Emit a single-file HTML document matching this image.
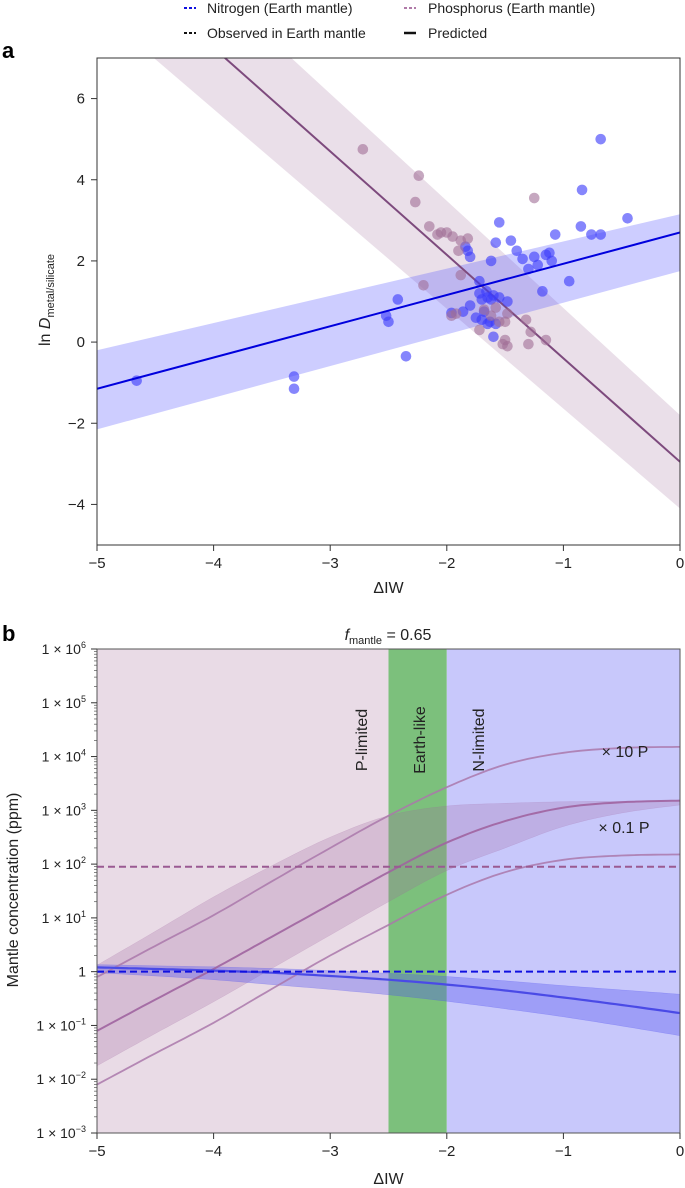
<!DOCTYPE html>
<html><head><meta charset="utf-8">
<style>
body{margin:0;background:#fff;}
svg{display:block;font-family:"Liberation Sans",sans-serif;}
</style></head>
<body>
<svg id="chart" width="685" height="1188" viewBox="0 0 685 1188" xmlns="http://www.w3.org/2000/svg">
<g font-size="14" fill="#222">
 <line x1="184" y1="8" x2="196" y2="8" stroke="#1010e0" stroke-width="2" stroke-dasharray="3,2"/>
 <text x="207" y="13">Nitrogen (Earth mantle)</text>
 <line x1="404" y1="8" x2="416" y2="8" stroke="#b07aa8" stroke-width="2" stroke-dasharray="3,2"/>
 <text x="428" y="13">Phosphorus (Earth mantle)</text>
 <line x1="184" y1="33" x2="196" y2="33" stroke="#111" stroke-width="2" stroke-dasharray="3,2"/>
 <text x="207" y="38">Observed in Earth mantle</text>
 <line x1="404" y1="33" x2="416" y2="33" stroke="#111" stroke-width="2.5"/>
 <text x="428" y="38">Predicted</text>
</g>
<text x="2" y="58" font-size="22" font-weight="bold">a</text>
<text x="2" y="641" font-size="22" font-weight="bold">b</text>
<g id="pa"></g>
<g id="pb"></g>
</svg>
<script>
// ---------- Panel a data ----------
const aXTicks = [-5,-4,-3,-2,-1,0];
const aYTicks = [-4,-2,0,2,4,6];
const nLineEnds = [-1.15, 2.7];      // values at x=-5 and x=0
const nBandUpper = [-0.2, 3.15];
const nBandLower = [-2.15, 1.75];
const pLineEnds = [9.8, -2.95];
const pBandUpper = [11.4, -1.8];
const pBandLower = [8.2, -4.1];
const nPointsX = [-4.66,-3.31,-3.31,-2.42,-2.52,-2.50,-2.35,-1.96,-1.84,-1.82,-1.80,-1.86,-1.80,-1.75,-1.72,-1.70,-1.68,-1.65,-1.62,-1.60,-1.63,-1.65,-1.58,-1.60,-1.62,-1.58,-1.55,-1.45,-1.40,-1.35,-1.30,-1.25,-1.22,-1.18,-1.15,-1.12,-1.10,-1.07,-0.95,-0.85,-0.84,-0.76,-0.68,-0.68,-0.45,-1.70,-1.66,-1.55,-1.48,-1.72];
const nPointsY = [-0.95,-0.85,-1.15,1.05,0.65,0.5,-0.35,0.72,2.35,2.25,2.1,0.75,0.9,0.6,1.2,1.05,0.75,1.1,1.05,1.15,0.5,0.45,0.45,0.13,2.0,2.45,2.95,2.5,2.25,2.05,1.8,2.1,1.9,1.25,2.15,2.2,2.0,2.65,1.5,2.85,3.75,2.65,2.65,5.0,3.05,0.55,1.25,1.1,1.0,1.5];
const pPointsX = [-2.72,-2.24,-2.27,-2.15,-2.08,-2.05,-2.0,-1.95,-1.88,-1.82,-1.90,-1.88,-2.20,-1.96,-1.92,-1.72,-1.68,-1.62,-1.55,-1.50,-1.50,-1.48,-1.52,-1.32,-1.28,-1.30,-1.15,-1.25,-1.58,-1.48];
const pPointsY = [4.75,4.1,3.45,2.85,2.65,2.7,2.7,2.6,2.5,2.55,2.25,1.65,1.4,0.65,0.7,0.3,0.8,0.65,0.5,0.5,0.05,-0.1,-0.05,0.55,0.25,-0.05,0.05,3.55,0.85,0.7];

// ---------- Panel b data ----------
const bXTicks = [-5,-4,-3,-2,-1,0];
const bYExp = [-3,-2,-1,0,1,2,3,4,5,6];
const bCurveX = [-5,-4.5,-4,-3.5,-3,-2.5,-2,-1.5,-1,-0.5,0];
const nPred = [0.08,0.05,0.02,-0.02,-0.08,-0.15,-0.24,-0.35,-0.48,-0.62,-0.77];
const nUpper = [0.13,0.11,0.09,0.06,0.02,-0.03,-0.09,-0.17,-0.26,-0.34,-0.42];
const nLower = [-0.02,-0.08,-0.15,-0.24,-0.33,-0.43,-0.55,-0.69,-0.84,-1.01,-1.19];
const pPred = [-1.1,-0.52,0.05,0.65,1.25,1.85,2.4,2.8,3.05,3.15,3.18];
const p10 = [-0.1,0.48,1.05,1.68,2.3,2.9,3.43,3.85,4.07,4.16,4.18];
const p01 = [-2.1,-1.52,-0.95,-0.32,0.3,0.87,1.43,1.85,2.08,2.16,2.18];
const pUpper = [0.12,0.75,1.39,1.97,2.5,2.9,3.08,3.13,3.16,3.17,3.18];
const pLower = [-1.75,-1.15,-0.56,0.06,0.68,1.3,1.88,2.3,2.7,2.95,3.1];
const nObserved = 0;       // log10 ppm
const pObserved = 1.95;
const regions = [[-5,-2.5],[-2.5,-2],[-2,0]];

const NS = "http://www.w3.org/2000/svg";
function mk(parent, tag, attrs){const e=document.createElementNS(NS,tag);for(const k in attrs)e.setAttribute(k,attrs[k]);parent.appendChild(e);return e;}

// ----- panel a -----
const pa = document.getElementById('pa');
const AL=97, AR=680, AT=58, AB=545;
const ax = v => AL + (v+5)/5*(AR-AL);
const ay = v => AT + (7-v)/12*(AB-AT);
function band(g,up,lo,fill,name){
  const p=mk(g,'polygon',{points:`${ax(-5)},${ay(up[0])} ${ax(0)},${ay(up[1])} ${ax(0)},${ay(lo[1])} ${ax(-5)},${ay(lo[0])}`,fill:fill});
  
  
}
mk(pa,'clipPath',{id:'clipA'}).appendChild(document.createElementNS(NS,'rect'));
const cr=document.querySelector('#clipA rect');cr.setAttribute('x',AL);cr.setAttribute('y',AT);cr.setAttribute('width',AR-AL);cr.setAttribute('height',AB-AT);
const gA=mk(pa,'g',{'clip-path':'url(#clipA)'});


band(gA,pBandUpper,pBandLower,'rgba(160,110,155,0.22)','phosphorus-band');
band(gA,nBandUpper,nBandLower,'rgba(90,90,255,0.3)','nitrogen-band');
let l=mk(gA,'line',{x1:ax(-5),y1:ay(pLineEnds[0]),x2:ax(0),y2:ay(pLineEnds[1]),stroke:'#7d4a7d','stroke-width':2});


nPointsX.forEach((x,i)=>{const c=mk(gA,'circle',{cx:ax(x),cy:ay(nPointsY[i]),r:5.3,fill:'rgba(60,60,250,0.62)'});

});
pPointsX.forEach((x,i)=>{const c=mk(gA,'circle',{cx:ax(x),cy:ay(pPointsY[i]),r:5.3,fill:'rgba(160,110,150,0.6)'});

});
l=mk(gA,'line',{x1:ax(-5),y1:ay(nLineEnds[0]),x2:ax(0),y2:ay(nLineEnds[1]),stroke:'#0000dd','stroke-width':2});


let fr=mk(pa,'rect',{x:AL,y:AT,width:AR-AL,height:AB-AT,fill:'none',stroke:'#333','stroke-width':1});


aXTicks.forEach(t=>{mk(pa,'line',{x1:ax(t),y1:AB,x2:ax(t),y2:AB+6,stroke:'#333'});
const tx=mk(pa,'text',{x:ax(t),y:AB+23,'font-size':15,'text-anchor':'middle',fill:'#222'});tx.textContent=(t<0?'−'+(-t):t);

});
aYTicks.forEach(t=>{mk(pa,'line',{x1:AL-6,y1:ay(t),x2:AL,y2:ay(t),stroke:'#333'});
const tx=mk(pa,'text',{x:AL-12,y:ay(t)+5,'font-size':15,'text-anchor':'end',fill:'#222'});tx.textContent=(t<0?'−'+(-t):t);

});
let xt=mk(pa,'text',{x:(AL+AR)/2,y:593,'font-size':16,'text-anchor':'middle',fill:'#222'});xt.textContent='ΔIW';


let yt=mk(pa,'text',{transform:'translate(50,300) rotate(-90)','font-size':16,'text-anchor':'middle',fill:'#222'});
yt.innerHTML='ln <tspan font-style="italic">D</tspan><tspan font-size="11" dy="4">metal/silicate</tspan>';



// ----- panel b -----
const pb=document.getElementById('pb');
const BL=97, BR=680, BT=649, BB=1133;
const bx=v=>BL+(v+5)/5*(BR-BL);
const by=v=>BB-(v+3)/9*(BB-BT);
const regFills=['#e9dbe6','#7cc07c','#c8c8fb'];
const regNames=['p-limited-region','earth-like-region','n-limited-region'];
regions.forEach((r,i)=>{const e=mk(pb,'rect',{x:bx(r[0]),y:BT,width:bx(r[1])-bx(r[0]),height:BB-BT,fill:regFills[i]});

});
function smoothPts(arr){
  // catmull-rom resample
  const P=bCurveX.map((x,i)=>[bx(x),by(arr[i])]);const out=[];
  for(let i=0;i<P.length-1;i++){const p0=P[Math.max(i-1,0)],p1=P[i],p2=P[i+1],p3=P[Math.min(i+2,P.length-1)];
    for(let s=0;s<10;s++){const t=s/10,t2=t*t,t3=t2*t;
      const f=(a,b,c,d)=>0.5*(2*b+(-a+c)*t+(2*a-5*b+4*c-d)*t2+(-a+3*b-3*c+d)*t3);
      out.push(`${f(p0[0],p1[0],p2[0],p3[0]).toFixed(1)},${f(p0[1],p1[1],p2[1],p3[1]).toFixed(1)}`);}}
  const last=P[P.length-1];out.push(`${last[0]},${last[1]}`);return out;}
function area(up,lo,fill,name){const p=mk(pb,'polygon',{points:smoothPts(up).concat(smoothPts(lo).reverse()).join(' '),fill:fill,stroke:fill,'stroke-width':0.5});

}
function curve(arr,stroke,w,name){const p=mk(pb,'polyline',{points:smoothPts(arr).join(' '),fill:'none',stroke:stroke,'stroke-width':w});

}
area(pUpper,pLower,'rgba(160,100,160,0.25)','phosphorus-band');
area(nUpper,nLower,'rgba(80,80,240,0.35)','nitrogen-band');
curve(p10,'rgba(170,120,170,0.85)',1.8,'phosphorus-x10-curve');
curve(pPred,'rgba(160,100,160,0.9)',2,'phosphorus-predicted-curve');
curve(p01,'rgba(170,120,170,0.85)',1.8,'phosphorus-x0.1-curve');
curve(nPred,'#4a4ae6',2.2,'nitrogen-predicted-curve');
let d=mk(pb,'line',{x1:BL,y1:by(pObserved),x2:BR,y2:by(pObserved),stroke:'#9a5a92','stroke-width':2,'stroke-dasharray':'7,4'});


d=mk(pb,'line',{x1:BL,y1:by(nObserved),x2:BR,y2:by(nObserved),stroke:'#1010e0','stroke-width':2,'stroke-dasharray':'7,4'});


fr=mk(pb,'rect',{x:BL,y:BT,width:BR-BL,height:BB-BT,fill:'none',stroke:'#555','stroke-width':1});


bXTicks.forEach(t=>{mk(pb,'line',{x1:bx(t),y1:BB,x2:bx(t),y2:BB+6,stroke:'#333'});
const tx=mk(pb,'text',{x:bx(t),y:BB+23,'font-size':15,'text-anchor':'middle',fill:'#222'});tx.textContent=(t<0?'−'+(-t):t);

});
bYExp.forEach(e=>{mk(pb,'line',{x1:BL-6,y1:by(e),x2:BL,y2:by(e),stroke:'#333'});
if(e<6){for(let m=2;m<10;m++){const yy=by(e+Math.log10(m));mk(pb,'line',{x1:BL-3,y1:yy,x2:BL,y2:yy,stroke:'#555','stroke-width':0.7});}}
const tx=mk(pb,'text',{x:BL-11,y:by(e)+5,'font-size':14,'text-anchor':'end',fill:'#222'});
if(e===0)tx.textContent='1';else tx.innerHTML=`1 × 10<tspan font-size="9" dy="-6">${e<0?'−'+(-e):e}</tspan>`;

});
xt=mk(pb,'text',{x:(BL+BR)/2,y:1184,'font-size':16,'text-anchor':'middle',fill:'#222'});xt.textContent='ΔIW';


yt=mk(pb,'text',{transform:'translate(18,890) rotate(-90)','font-size':16,'text-anchor':'middle',fill:'#222'});yt.textContent='Mantle concentration (ppm)';


const ttl=mk(pb,'text',{x:388,y:640,'font-size':16,'text-anchor':'middle',fill:'#222'});
ttl.innerHTML='<tspan font-style="italic">f</tspan><tspan font-size="11" dy="4">mantle</tspan><tspan dy="-4"> = 0.65</tspan>';


[['P-limited',367],['Earth-like',425],['N-limited',484]].forEach(([s,x])=>{const t=mk(pb,'text',{transform:`translate(${x},740) rotate(-90)`,'font-size':16,'text-anchor':'middle',fill:'#222'});t.textContent=s;

});
[['× 10 P',625,757],['× 0.1 P',624,833]].forEach(([s,x,y])=>{const t=mk(pb,'text',{x:x,y:y,'font-size':16,'text-anchor':'middle',fill:'#222'});t.textContent=s;

});
</script>
</body></html>
